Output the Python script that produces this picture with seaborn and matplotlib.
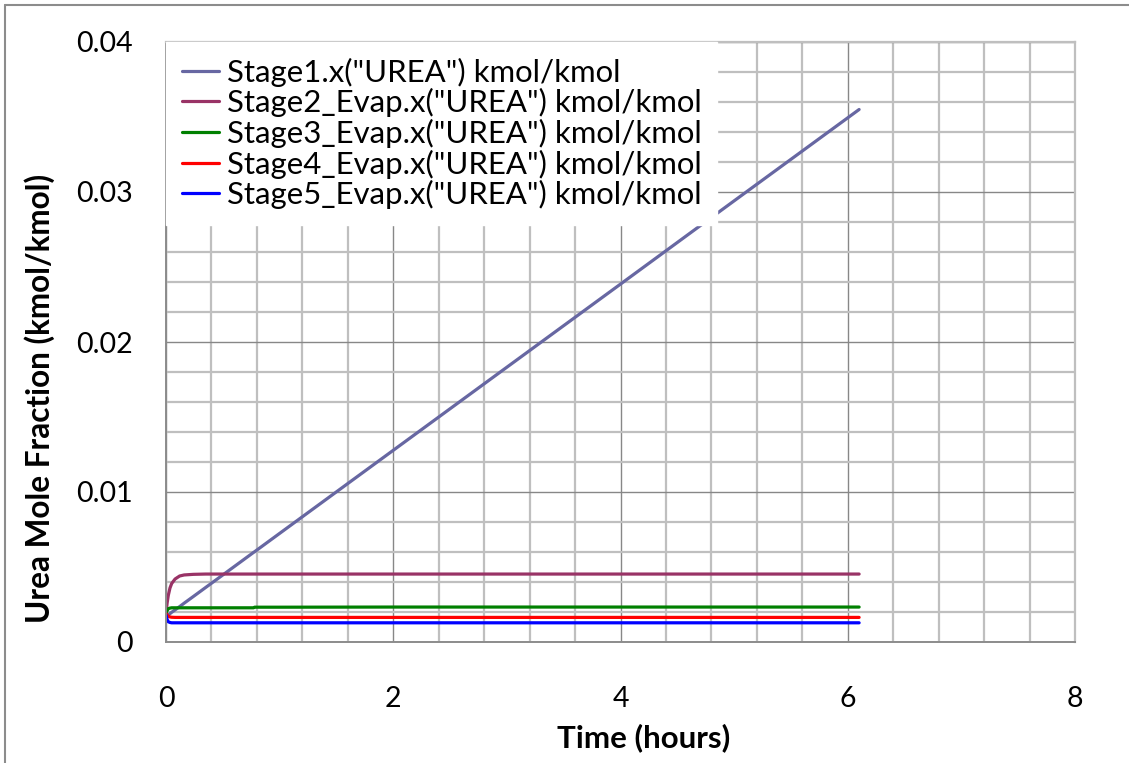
import matplotlib
matplotlib.use("Agg")
import matplotlib.pyplot as plt
from matplotlib.ticker import MultipleLocator, FuncFormatter
from matplotlib.lines import Line2D
import seaborn as sns
import pandas as pd

# ---- data ----
time_h = [0, 0.01, 0.02, 0.035, 0.05, 0.08, 0.12, 0.16, 0.24, 0.35, 0.5,
          0.77, 0.78, 1.0, 2.0, 3.0, 4.0, 5.0, 6.1]
stage1 = [0.0017, 0.00176, 0.00181, 0.00189, 0.00198, 0.00214, 0.00236, 0.00259,
          0.00303, 0.00364, 0.00447, 0.00597, 0.00602, 0.00724, 0.01278, 0.01832,
          0.02386, 0.02941, 0.0355]
stage2 = [0.0019, 0.0026, 0.0031, 0.0036, 0.0039, 0.0042, 0.0044, 0.00447,
          0.00451, 0.00453, 0.00453, 0.00453, 0.00453, 0.00453, 0.00453, 0.00453,
          0.00453, 0.00453, 0.00453]
stage3 = [0.0019, 0.0021, 0.00222, 0.00226, 0.00228, 0.00228, 0.00228, 0.00228,
          0.00228, 0.00228, 0.00228, 0.00228, 0.00232, 0.00232, 0.00233, 0.00233,
          0.00233, 0.00233, 0.00233]
stage4 = [0.0019, 0.0018, 0.00172, 0.00167, 0.00165, 0.00164, 0.00164, 0.00164,
          0.00164, 0.00164, 0.00164, 0.00164, 0.00164, 0.00164, 0.00164, 0.00164,
          0.00164, 0.00164, 0.00164]
stage5 = [0.0018, 0.0015, 0.00135, 0.0013, 0.00128, 0.00128, 0.00128, 0.00128,
          0.00128, 0.00128, 0.00128, 0.00128, 0.00128, 0.00128, 0.00128, 0.00128,
          0.00128, 0.00128, 0.00128]
series_names = ['Stage1.x("UREA") kmol/kmol',
                'Stage2_Evap.x("UREA") kmol/kmol',
                'Stage3_Evap.x("UREA") kmol/kmol',
                'Stage4_Evap.x("UREA") kmol/kmol',
                'Stage5_Evap.x("UREA") kmol/kmol']
series_colors = ["#6767A2", "#993366", "#008000", "#FF0000", "#0000FF"]

rows = []
for name, vals in zip(series_names, [stage1, stage2, stage3, stage4, stage5]):
    for t, v in zip(time_h, vals):
        rows.append({"Time": t, "Value": v, "Series": name})
df = pd.DataFrame(rows)

sns.set_theme(style="white")
plt.rcParams['font.family'] = ['Lato', 'DejaVu Sans']
plt.rcParams['text.color'] = 'black'
plt.rcParams['axes.labelcolor'] = 'black'
plt.rcParams['xtick.color'] = 'black'
plt.rcParams['ytick.color'] = 'black'

fig = plt.figure(figsize=(11.29, 7.63), dpi=100)
ax = fig.add_axes([166/1129, 1-642/763, (1075-166)/1129, (642-42)/763])

sns.lineplot(data=df, x="Time", y="Value", hue="Series", hue_order=series_names,
             palette=dict(zip(series_names, series_colors)), estimator=None,
             sort=False, linewidth=2.3, ax=ax, legend=True)

ax.set_xlim(0, 8)
ax.set_ylim(0, 0.04)
ax.xaxis.set_major_locator(MultipleLocator(2))
ax.xaxis.set_minor_locator(MultipleLocator(0.4))
ax.yaxis.set_major_locator(MultipleLocator(0.01))
ax.yaxis.set_minor_locator(MultipleLocator(0.002))
ax.yaxis.set_major_formatter(FuncFormatter(lambda v, p: "0" if abs(v) < 1e-12 else f"{v:.2f}"))
ax.xaxis.set_major_formatter(FuncFormatter(lambda v, p: f"{v:g}"))

ax.set_axisbelow(True)
ax.grid(which="major", color="#878787", linewidth=1.0)
ax.grid(which="minor", color="#BFBFBF", linewidth=1.6)
ax.tick_params(which="both", length=0)
ax.tick_params(axis="x", pad=32, labelsize=20.5, colors="black")
ax.tick_params(axis="y", pad=24, labelsize=20.5, colors="black")

for s in ["top", "right"]:
    ax.spines[s].set_color("#BFBFBF")
    ax.spines[s].set_linewidth(1.6)
for s in ["left", "bottom"]:
    ax.spines[s].set_color("#8C8C8C")
    ax.spines[s].set_linewidth(1.4)

ax.set_xlabel("Time (hours)", fontsize=22.5, fontweight="bold")
ax.xaxis.set_label_coords((644-166)/909, -(723-642)/600)
ax.set_ylabel("Urea Mole Fraction (kmol/kmol)", fontsize=22.7, fontweight="bold")
ax.yaxis.set_label_coords(-(166-55)/909, (642-398)/600)

handles, labels = ax.get_legend_handles_labels()
leg = ax.legend(handles, labels, loc="upper left", bbox_to_anchor=(0.0, 1.0),
                fontsize=22.4, frameon=True, fancybox=False, framealpha=1,
                facecolor="white", edgecolor="white", handlelength=1.2,
                handletextpad=0.26, labelspacing=0.05, borderpad=0.5,
                borderaxespad=0.0)
for h in leg.get_lines():
    h.set_linewidth(2.3)

fig.add_artist(Line2D([5/1129, 1.0], [1-5/763, 1-5/763], color="#8C8C8C", linewidth=1.5))
fig.add_artist(Line2D([5/1129, 5/1129], [0, 1-5/763], color="#8C8C8C", linewidth=1.5))

fig.savefig("out.png", dpi=100, facecolor="white")
